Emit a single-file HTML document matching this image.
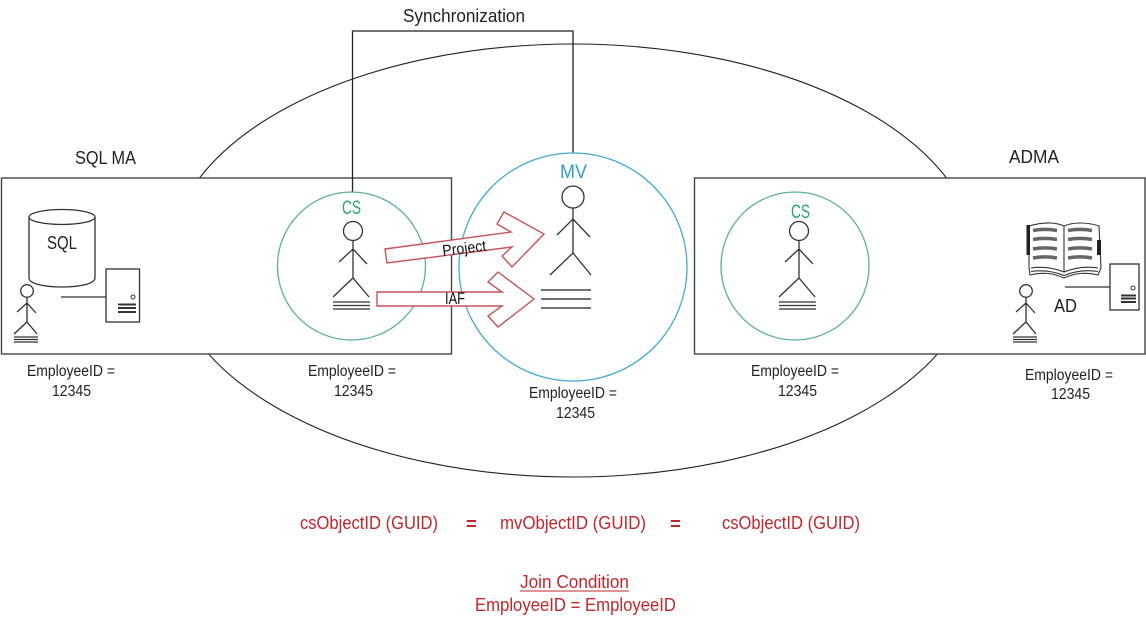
<!DOCTYPE html>
<html>
<head>
<meta charset="utf-8">
<style>
html,body{margin:0;padding:0;background:#fff}
svg{display:block}
text{font-family:"Liberation Sans",sans-serif;font-size:15.5px;fill:#222}
text.r{fill:#c0272d;font-size:18.5px}
.s{fill:none;stroke:#333;stroke-width:1.3}
</style>
</head>
<body>
<svg width="1146" height="626" viewBox="0 0 1146 626" xmlns="http://www.w3.org/2000/svg">
<defs>
<g id="fig">
<circle cx="353" cy="231" r="9.5" class="s"/>
<path class="s" d="M353 240.500V278M339 262L353 249L367 264M333 297L353 278L369 297M333 302H370M333 305.500H370M333 309H370"/>
</g>
<g id="small">
<circle cx="27" cy="291" r="6.300" class="s"/>
<path class="s" d="M27 297V322M17 312L27 303L36 313M14 334L27 322L37 334M14 337H38M14 339.500H38M14 342H38"/>
</g>
</defs>
<ellipse cx="573" cy="260.500" rx="404" ry="216.500" fill="#fff" stroke="#222" stroke-width="1.100"/>
<rect x="1.500" y="178" width="450" height="176" fill="#fff" stroke="#444" stroke-width="1.400"/>
<rect x="694.500" y="178" width="450.500" height="176" fill="#fff" stroke="#444" stroke-width="1.400"/>
<polyline points="352.500,192 352.500,31 573,31 573,153" fill="none" stroke="#222" stroke-width="1.300"/>
<circle cx="573" cy="267" r="114" fill="none" stroke="#46a9cf" stroke-width="1.300"/>
<circle cx="351.500" cy="266" r="74" fill="none" stroke="#5cb09a" stroke-width="1.300"/>
<circle cx="795" cy="266" r="74" fill="none" stroke="#5cb09a" stroke-width="1.300"/>

<!-- SQL icons -->
<path d="M29 217V278C29 290 95 290 95 278V217" fill="#fff" stroke="#333" stroke-width="1.300"/>
<ellipse cx="62" cy="217" rx="33" ry="7.500" fill="#fff" stroke="#333" stroke-width="1.300"/>
<text x="47" y="249" textLength="30" lengthAdjust="spacingAndGlyphs" style="font-size:18px">SQL</text>
<use href="#small"/>
<line x1="61" y1="297" x2="106" y2="297" stroke="#333" stroke-width="1.300"/>
<rect x="106" y="269" width="33.500" height="53" fill="#fff" stroke="#333" stroke-width="1.300"/>
<circle cx="133" cy="297" r="2" fill="none" stroke="#333"/>
<path d="M118 304.500H136M118 308H136M118 312H136" stroke="#333" stroke-width="2"/>

<!-- figures -->
<use href="#fig"/>
<use href="#fig" x="446"/>
<circle cx="573" cy="197" r="11" class="s"/>
<path class="s" d="M573 208V253M557 235L573 219L590 237M550 275L573 253L591 275"/>
<path d="M541 290H591M541 299H591M541 308H591" stroke="#444" stroke-width="1.500"/>

<!-- arrows -->
<polygon points="385,249 511,232 497,224 504,212 544,234 512,267 502,256 512,247 387,263" fill="#fff" stroke="#c3545a" stroke-width="1.400"/>
<polygon points="377,292 502,292 488,282 498,272 534,299 498,327 488,316 502,306 377,306" fill="#fff" stroke="#c3545a" stroke-width="1.400"/>
<text transform="translate(443,256) rotate(-7)" textLength="44" lengthAdjust="spacingAndGlyphs" style="font-size:15.5px;fill:#111">Project</text>
<text x="445" y="304" textLength="20" lengthAdjust="spacingAndGlyphs" style="font-size:16.500px;fill:#111">IAF</text>

<!-- AD icons -->
<g fill="#fff" stroke="#333" stroke-width="1.100">
<path d="M1029 226C1043 222 1055 222 1064 226C1073 222 1087 222 1099 226L1101 268L1098 275C1085 272 1075 273 1064 278C1053 273 1043 272 1030 275L1029 268Z"/>
<path d="M1064 226V272"/>
<path d="M1031 268C1044 266 1054 268 1064 272C1074 268 1086 266 1098 268" fill="none"/>
<path d="M1031 271.500C1044 269.500 1054 271.500 1064 275.500C1074 271.500 1086 269.500 1098 271.500" fill="none"/>
</g>
<rect x="1026.500" y="225" width="3.500" height="30" fill="#222"/>
<rect x="1097" y="240" width="4" height="15" fill="#222"/>
<path d="M1033 230.500C1041 229 1049 229 1057 230.500M1033 239.500C1041 238 1049 238 1057 239.500M1033 249C1041 247.500 1049 247.500 1057 249M1033 258C1041 256.500 1049 256.500 1057 258M1068 230.500C1076 229 1084 229 1092 230.500M1068 239.500C1076 238 1084 238 1092 239.500M1068 249C1076 247.500 1084 247.500 1092 249M1068 258C1076 256.500 1084 256.500 1092 258" fill="none" stroke="#666" stroke-width="3.600"/>
<use href="#small" x="999"/>
<line x1="1065" y1="287" x2="1110" y2="287" stroke="#333" stroke-width="1.300"/>
<rect x="1110" y="264" width="29" height="46" fill="#fff" stroke="#333" stroke-width="1.300"/>
<circle cx="1133" cy="288" r="2" fill="none" stroke="#333"/>
<path d="M1121 295.500H1136M1121 298.500H1136M1121 302H1136" stroke="#333" stroke-width="2"/>
<text x="1054" y="312" textLength="23" lengthAdjust="spacingAndGlyphs" style="font-size:18px">AD</text>

<!-- titles -->
<text x="403" y="22" textLength="122" lengthAdjust="spacingAndGlyphs" style="font-size:18px">Synchronization</text>
<text x="75" y="164" textLength="61" lengthAdjust="spacingAndGlyphs" style="font-size:18px">SQL MA</text>
<text x="1009" y="163" textLength="50" lengthAdjust="spacingAndGlyphs" style="font-size:18px">ADMA</text>
<text x="560" y="178" textLength="27" lengthAdjust="spacingAndGlyphs" style="font-size:19px;fill:#2f9fc8">MV</text>
<text x="342" y="214" textLength="19" lengthAdjust="spacingAndGlyphs" style="font-size:19px;fill:#2aa56f">CS</text>
<text x="791" y="218" textLength="19" lengthAdjust="spacingAndGlyphs" style="font-size:19px;fill:#2aa56f">CS</text>

<!-- EmployeeID labels -->
<g>
<text x="27" y="376" textLength="88" lengthAdjust="spacingAndGlyphs">EmployeeID =</text><text x="52" y="396" textLength="39" lengthAdjust="spacingAndGlyphs">12345</text>
<text x="308" y="376" textLength="88" lengthAdjust="spacingAndGlyphs">EmployeeID =</text><text x="334" y="396" textLength="39" lengthAdjust="spacingAndGlyphs">12345</text>
<text x="529" y="398" textLength="88" lengthAdjust="spacingAndGlyphs">EmployeeID =</text><text x="556" y="418" textLength="39" lengthAdjust="spacingAndGlyphs">12345</text>
<text x="751" y="376" textLength="88" lengthAdjust="spacingAndGlyphs">EmployeeID =</text><text x="778" y="396" textLength="39" lengthAdjust="spacingAndGlyphs">12345</text>
<text x="1025" y="380" textLength="88" lengthAdjust="spacingAndGlyphs">EmployeeID =</text><text x="1051" y="399" textLength="39" lengthAdjust="spacingAndGlyphs">12345</text>
</g>

<!-- red text -->
<text class="r" x="300" y="529" textLength="138" lengthAdjust="spacingAndGlyphs">csObjectID (GUID)</text>
<text class="r" x="466" y="530" style="font-weight:bold">=</text>
<text class="r" x="500" y="529" textLength="146" lengthAdjust="spacingAndGlyphs">mvObjectID (GUID)</text>
<text class="r" x="670" y="530" style="font-weight:bold">=</text>
<text class="r" x="722" y="529" textLength="138" lengthAdjust="spacingAndGlyphs">csObjectID (GUID)</text>
<text class="r" x="520" y="588" textLength="109" lengthAdjust="spacingAndGlyphs">Join Condition</text>
<line x1="520" y1="591" x2="629" y2="591" stroke="#c0272d" stroke-width="1"/>
<text class="r" x="475" y="611" textLength="201" lengthAdjust="spacingAndGlyphs">EmployeeID = EmployeeID</text>
</svg>
</body>
</html>
